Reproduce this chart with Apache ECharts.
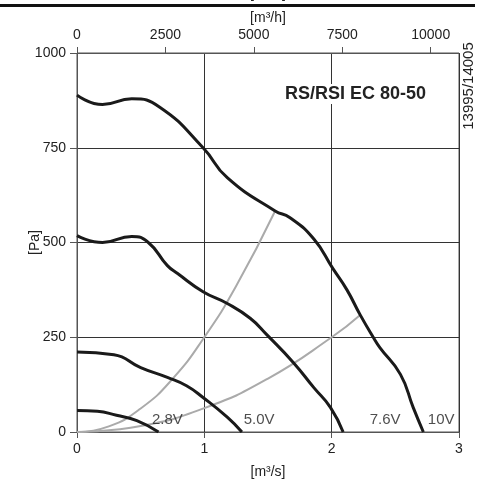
<!DOCTYPE html>
<html>
<head>
<meta charset="utf-8">
<script src="https://cdn.jsdelivr.net/npm/echarts@6/dist/echarts.min.js"></script>
<style>
  html, body { margin: 0; padding: 0; background: #fff; }
  #main { width: 478px; height: 484px; }
</style>
</head>
<body>
<div id="main"></div>
<script>
// fan curves, [flow m3/s, pressure Pa]
var curve10V = [[0, 889], [0.2, 864], [0.43, 879], [0.65, 857], [0.99, 750], [1.18, 671], [1.556, 583], [1.67, 566], [1.86, 509], [2.01, 431], [2.12, 375], [2.224, 309], [2.33, 248], [2.38, 222], [2.54, 152], [2.64, 65], [2.72, 0]];
var curve76V = [[0, 518], [0.2, 500], [0.43, 516], [0.56, 500], [0.71, 439], [0.79, 418], [0.99, 370], [1.18, 339], [1.36, 300], [1.49, 257], [1.70, 183], [1.86, 117], [1.99, 65], [2.09, 0]];
var curve50V = [[0, 211], [0.29, 204], [0.5, 170], [0.71, 144], [0.86, 122], [0.99, 91], [1.18, 39], [1.295, 0]];
var curve28V = [[0, 57], [0.16, 55], [0.31, 44], [0.47, 30], [0.64, 0]];
// system curves (grey)
var systemA = [[0, 0], [0.25, 15], [0.5, 62], [0.75, 140], [1.0, 250], [1.25, 385], [1.556, 583]];
var systemB = [[0, 0], [0.5, 16], [1.0, 63], [1.5, 141], [2.0, 250], [2.224, 309]];
// voltage labels
var voltNames = ['2.8V', '5.0V', '7.6V', '10V'];
var voltPos = [[0.71, 32], [1.43, 32], [2.42, 32], [2.86, 32]];

var txt = '#222';
var font = 'Liberation Sans';
function plain(v) { return String(v); }

var myChart = echarts.init(document.getElementById('main'));

var option = {
    animation: false,
    textStyle: { fontFamily: font },
    title: {
        text: 'RS/RSI EC 80-50',
        left: 284,
        top: 84,
        padding: [1, 1],
        backgroundColor: '#fff',
        textStyle: { fontFamily: font, fontSize: 18, fontWeight: 'bold', color: txt }
    },
    grid: {
        left: 77, right: 19, top: 53, bottom: 49,
        show: true, borderColor: '#555', borderWidth: 1
    },
    xAxis: [{
        type: 'value',
        min: 0, max: 3, interval: 1,
        name: '[m³/s]', nameLocation: 'middle', nameGap: 33, nameMoveOverlap: false,
        nameTextStyle: { color: txt, fontSize: 14, fontFamily: font },
        axisLine: { show: true, lineStyle: { color: '#555' } },
        axisTick: { show: true, length: 6, lineStyle: { color: '#555' } },
        axisLabel: { color: txt, fontSize: 14, margin: 10, formatter: plain },
        splitLine: { show: true, lineStyle: { color: '#333', width: 1 } }
    }, {
        type: 'value',
        position: 'top',
        min: 0, max: 10800, interval: 2500,
        name: '[m³/h]', nameLocation: 'middle', nameGap: 28, nameMoveOverlap: false,
        nameTextStyle: { color: txt, fontSize: 14, fontFamily: font },
        axisLine: { show: true, lineStyle: { color: '#555' } },
        axisTick: { show: true, length: 6, lineStyle: { color: '#555' } },
        axisLabel: { color: txt, fontSize: 14, margin: 11, showMaxLabel: false, formatter: plain },
        splitLine: { show: false }
    }],
    yAxis: {
        type: 'value',
        min: 0, max: 1000, interval: 250,
        name: '[Pa]', nameLocation: 'middle', nameGap: 35, nameMoveOverlap: false,
        nameTextStyle: { color: txt, fontSize: 14, fontFamily: font },
        axisLine: { show: true, lineStyle: { color: '#555' } },
        axisTick: { show: true, length: 7, lineStyle: { color: '#555' } },
        axisLabel: { color: txt, fontSize: 14, margin: 11, formatter: plain },
        splitLine: { show: true, lineStyle: { color: '#333', width: 1 } }
    },
    graphic: [
        { type: 'rect', left: 0, top: 4, shape: { width: 475, height: 3 }, style: { fill: '#111' } },
        { type: 'text', x: 268, y: 1, style: { text: '[m³/h]', fill: txt, font: '14px "Liberation Sans"', textAlign: 'center', textVerticalAlign: 'bottom' } },
        { type: 'text', x: 469, y: 86, rotation: Math.PI / 2, style: { text: '13995/14005', fill: txt, font: '15px "Liberation Sans"', textAlign: 'center', textVerticalAlign: 'middle' } }
    ],
    series: [
        { type: 'line', data: systemA, smooth: true, symbol: 'none', lineStyle: { color: '#aaa', width: 2 }, z: 2 },
        { type: 'line', data: systemB, smooth: true, symbol: 'none', lineStyle: { color: '#aaa', width: 2 }, z: 2 },
        { type: 'line', data: curve10V, smooth: true, symbol: 'none', lineStyle: { color: '#1a1a1a', width: 3 }, z: 3 },
        { type: 'line', data: curve76V, smooth: true, symbol: 'none', lineStyle: { color: '#1a1a1a', width: 3 }, z: 3 },
        { type: 'line', data: curve50V, smooth: true, symbol: 'none', lineStyle: { color: '#1a1a1a', width: 3 }, z: 3 },
        { type: 'line', data: curve28V, smooth: true, symbol: 'none', lineStyle: { color: '#1a1a1a', width: 3 }, z: 3 },
        {
            type: 'scatter', symbolSize: 0, z: 4,
            data: voltPos.map(function (p, i) { return { value: p, name: voltNames[i] }; }),
            label: { show: true, position: 'inside', formatter: '{b}', color: txt, fontSize: 15, fontFamily: font }
        }
    ]
};
myChart.setOption(option);
</script>
</body>
</html>
